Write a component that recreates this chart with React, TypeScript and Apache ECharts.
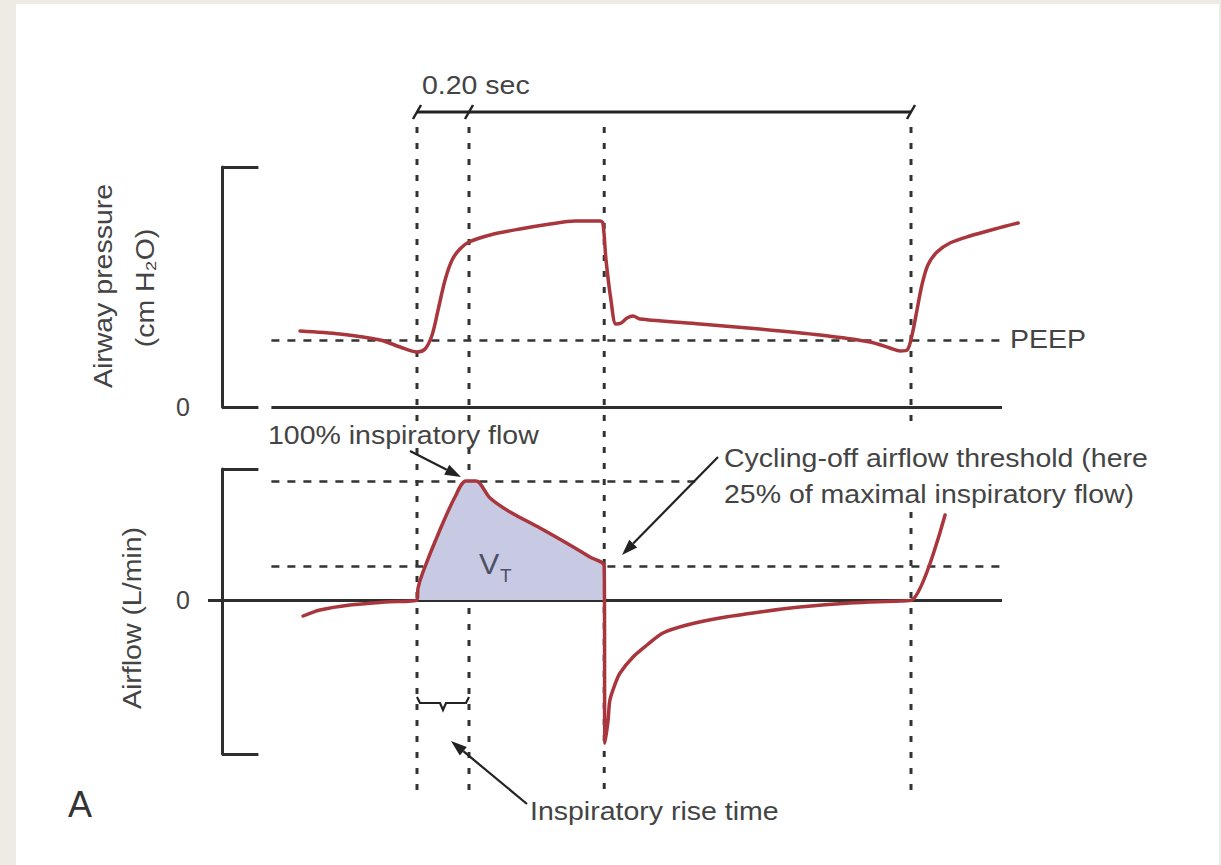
import React, { useEffect, useRef } from 'react';
import * as echarts from 'echarts';

// ---- axis ranges ----
const TIME_MAX = 3.1; // seconds
const PRESSURE_MAX = 24; // cm H2O (arbitrary scale of the schematic)
const FLOW_MIN = -15.4; // L/min (schematic)
const FLOW_MAX = 13.1;

// ---- reference levels ----
const PEEP = 6.7;
const PEAK_FLOW = 11.9;
const CYCLE_OFF_FLOW = 3.4;

// ---- event times (s) ----
const T_INSP_START = 0.75;
const T_RISE_END = 0.95;
const T_CYCLE_OFF = 1.47;
const T_NEXT_BREATH = 2.65;

// ---- reference line extents (s) ----
const REF_LINE_START = 0.19;
const REF_LINE_END = 3.0;
const PEEP_LINE_END = 2.99;
const PEAK_LINE_END = 1.82;
const BRACKET_TICK = 0.14;

// ---- airway pressure waveform ----
const pressureTime = [
  0.3, 0.454, 0.608, 0.685, 0.75, 0.781, 0.808, 0.831, 0.858, 0.885, 0.915, 0.95, 1.031, 1.146,
  1.262, 1.358, 1.454, 1.465, 1.477, 1.496, 1.515, 1.535, 1.558, 1.581, 1.608, 1.838, 2.069, 2.3,
  2.492, 2.569, 2.608, 2.635, 2.654, 2.673, 2.692, 2.715, 2.75, 2.8, 2.877, 2.973, 3.062,
];
const pressureValues = [
  7.6, 7.3, 6.7, 6.0, 5.5, 5.8, 7.2, 9.7, 12.7, 14.7, 15.8, 16.5, 17.2, 17.8, 18.3, 18.6, 18.6,
  18.4, 14.7, 10.7, 8.3, 8.4, 8.9, 9.1, 8.8, 8.3, 7.8, 7.2, 6.5, 5.9, 5.6, 5.7, 7.2, 9.7, 12.2,
  14.2, 15.5, 16.4, 17.1, 17.8, 18.4,
];

// ---- airflow waveform ----
const flowTime = [
  0.312, 0.377, 0.492, 0.627, 0.75, 0.754, 0.773, 0.838, 0.896, 0.938, 0.977, 1.031, 1.108, 1.223,
  1.338, 1.415, 1.47, 1.473, 1.485, 1.492, 1.512, 1.531, 1.581, 1.635, 1.696, 1.788, 1.915, 2.069,
  2.223, 2.415, 2.608, 2.654, 2.781,
];
const flowValues = [
  -1.6, -1.0, -0.5, -0.2, 0, 1.2, 2.8, 7.0, 10.3, 11.9, 11.9, 10.2, 8.8, 7.2, 5.5, 4.3, 3.4, -14.3,
  -12.0, -10.0, -8.4, -7.3, -5.7, -4.5, -3.3, -2.5, -1.8, -1.2, -0.7, -0.3, -0.1, 0, 8.5,
];
// inspiratory part (tidal volume area): indices of flow arrays
const VT_FIRST = 4;
const VT_LAST = 16;

const CURVE_COLOR = '#a8363c';
const AXIS_COLOR = '#2e2e2e';
const DASH_COLOR = '#333';
const TEXT_COLOR = '#444';
const FILL_COLOR = '#c8cae3';
const FONT = '"Liberation Sans", Arial, Helvetica, sans-serif';
const SX = 1.14;
const SMOOTH = 0.3;

const zip = (a: number[], b: number[]) => a.map((v, i) => [v, b[i]]);

function seg(x1: number, y1: number, x2: number, y2: number, style: any) {
  return [
    { coord: [x1, y1], lineStyle: style },
    { coord: [x2, y2] },
  ];
}

const solid = { color: AXIS_COLOR, width: 3, type: 'solid' };
const dashed = { color: DASH_COLOR, width: 2.5, type: [8, 8] };

function label(text: string, x: number, y: number, o: any = {}) {
  const align = o.align ?? 'left';
  return {
    type: 'text',
    x,
    y,
    z: 20,
    scaleX: o.scaleX ?? SX,
    rotation: o.rotation ?? 0,
    style: {
      text,
      fill: o.color ?? TEXT_COLOR,
      fontSize: o.size ?? 25,
      fontFamily: FONT,
      align,
      textAlign: align,
      verticalAlign: 'middle',
      textVerticalAlign: 'middle',
    },
  };
}

function arrow(x1: number, y1: number, x2: number, y2: number) {
  const dx = x2 - x1;
  const dy = y2 - y1;
  const L = Math.hypot(dx, dy);
  const ux = dx / L;
  const uy = dy / L;
  const hl = 16;
  const hw = 5.5;
  const bx = x2 - ux * hl;
  const by = y2 - uy * hl;
  return [
    { type: 'line', z: 20, shape: { x1, y1, x2: bx, y2: by }, style: { stroke: '#222', lineWidth: 2.2 } },
    {
      type: 'polygon',
      z: 20,
      shape: { points: [[x2, y2], [bx - uy * hw, by + ux * hw], [bx + uy * hw, by - ux * hw]] },
      style: { fill: '#222' },
    },
  ];
}

export default function App() {
  const ref = useRef<HTMLDivElement>(null);

  useEffect(() => {
    if (!ref.current) return;
    const chart = echarts.init(ref.current, null, { renderer: 'svg' });

    const yAxisCommon = {
      position: 'left',
      axisLine: { show: true, lineStyle: { color: AXIS_COLOR, width: 3 } },
      splitLine: { show: false },
      axisLabel: {
        customValues: [0],
        formatter: (v: number) => (v === 0 ? '0' : ''),
        margin: 32,
        fontSize: 25,
        fontFamily: FONT,
        color: TEXT_COLOR,
      },
    };

    chart.setOption({
      animation: false,
      backgroundColor: 'transparent',
      grid: [
        { left: 222, top: 167, width: 806, height: 240, containLabel: false, outerBoundsMode: 'none' },
        { left: 222, top: 469, width: 806, height: 285, containLabel: false, outerBoundsMode: 'none' },
      ],
      xAxis: [
        { type: 'value', gridIndex: 0, min: 0, max: TIME_MAX, show: false },
        { type: 'value', gridIndex: 1, min: 0, max: TIME_MAX, show: false },
      ],
      yAxis: [
        { ...yAxisCommon, type: 'value', gridIndex: 0, min: 0, max: PRESSURE_MAX, axisTick: { show: false } },
        {
          ...yAxisCommon,
          type: 'value',
          gridIndex: 1,
          min: FLOW_MIN,
          max: FLOW_MAX,
          axisTick: {
            show: true,
            customValues: [0],
            length: 14,
            lineStyle: { color: AXIS_COLOR, width: 3 },
          },
        },
      ],
      series: [
        {
          name: 'Airway pressure',
          type: 'line',
          xAxisIndex: 0,
          yAxisIndex: 0,
          data: zip(pressureTime, pressureValues),
          smooth: SMOOTH,
          symbol: 'none',
          clip: false,
          z: 4,
          silent: true,
          lineStyle: { color: CURVE_COLOR, width: 3.5, join: 'round', cap: 'round' },
          markLine: {
            silent: true,
            z: 1,
            symbol: 'none',
            label: { show: false },
            data: [
              seg(REF_LINE_START, 0, REF_LINE_END, 0, solid),
              seg(0, 0, BRACKET_TICK, 0, solid),
              seg(0, PRESSURE_MAX, BRACKET_TICK, PRESSURE_MAX, solid),
              seg(REF_LINE_START, PEEP, PEEP_LINE_END, PEEP, dashed),
            ],
          },
        },
        {
          name: 'Tidal volume',
          type: 'line',
          xAxisIndex: 1,
          yAxisIndex: 1,
          data: zip(flowTime.slice(VT_FIRST, VT_LAST + 1), flowValues.slice(VT_FIRST, VT_LAST + 1)),
          smooth: SMOOTH,
          symbol: 'none',
          clip: false,
          z: 2,
          silent: true,
          lineStyle: { width: 0, opacity: 0 },
          areaStyle: { color: FILL_COLOR, opacity: 1 },
        },
        {
          name: 'Airflow',
          type: 'line',
          xAxisIndex: 1,
          yAxisIndex: 1,
          data: zip(flowTime, flowValues),
          smooth: SMOOTH,
          symbol: 'none',
          clip: false,
          z: 4,
          silent: true,
          lineStyle: { color: CURVE_COLOR, width: 3.5, join: 'round', cap: 'round' },
          markLine: {
            silent: true,
            z: 1,
            symbol: 'none',
            label: { show: false },
            data: [
              seg(0, 0, REF_LINE_END, 0, solid),
              seg(0, FLOW_MAX, BRACKET_TICK, FLOW_MAX, solid),
              seg(0, FLOW_MIN, BRACKET_TICK, FLOW_MIN, solid),
              seg(REF_LINE_START, PEAK_FLOW, PEAK_LINE_END, PEAK_FLOW, dashed),
              seg(REF_LINE_START, CYCLE_OFF_FLOW, REF_LINE_END, CYCLE_OFF_FLOW, dashed),
            ],
          },
        },
      ],
    });

    const xPx = (t: number) => chart.convertToPixel({ xAxisIndex: 0 }, t) as unknown as number;
    const yP = (v: number) => chart.convertToPixel({ yAxisIndex: 0 }, v) as unknown as number;
    const yF = (v: number) => chart.convertToPixel({ yAxisIndex: 1 }, v) as unknown as number;

    const vTop = yP(PRESSURE_MAX) - 40;
    const vBot = yF(FLOW_MIN) + 38;
    const dotted = { stroke: DASH_COLOR, lineWidth: 3, lineDash: [6, 10] };
    const vline = (x: number, y1: number, y2: number) => ({
      type: 'line',
      z: 1,
      shape: { x1: x, y1, x2: x, y2 },
      style: dotted,
    });

    const xa = xPx(T_INSP_START);
    const xb = xPx(T_RISE_END);
    const xc = xPx(T_CYCLE_OFF);
    const xd = xPx(T_NEXT_BREATH);
    const barY = yP(PRESSURE_MAX) - 55;
    const slash = (x: number) => ({
      type: 'line',
      z: 20,
      shape: { x1: x - 4, y1: barY + 7, x2: x + 4, y2: barY - 7 },
      style: { stroke: '#222', lineWidth: 2.5 },
    });
    const braceY = 703;
    const bm = (xa + xb) / 2;

    chart.setOption({
      graphic: [
        // vertical timing guides (drawn beneath the curves)
        vline(xa, vTop, 424),
        vline(xa, 448, vBot),
        vline(xb, vTop, 424),
        vline(xb, 448, vBot),
        vline(xc, vTop, vBot),
        vline(xd, vTop, 425),
        vline(xd, 512, vBot),
        // timing bar
        { type: 'line', z: 20, shape: { x1: xa, y1: barY, x2: xd, y2: barY }, style: { stroke: '#222', lineWidth: 2.8 } },
        slash(xa),
        slash(xb),
        slash(xd),
        label('0.20 sec', xa + 5, barY - 26),
        // axis titles
        label('Airway pressure', 104, 286, { rotation: Math.PI / 2, align: 'center' }),
        label('(cm H\u2082O)', 146, 288, { rotation: Math.PI / 2, align: 'center' }),
        label('Airflow (L/min)', 133, 618, { rotation: Math.PI / 2, align: 'center' }),
        // annotations
        label('PEEP', 1010, yP(PEEP)),
        label('100% inspiratory flow', 268, 436),
        ...arrow(410, 451, 461, 477),
        label('Cycling-off airflow threshold (here', 724, 459),
        label('25% of maximal inspiratory flow)', 724, 495),
        ...arrow(718, 457, 622, 555),
        label('V', 479, 564, { size: 29, scaleX: 1.05, color: '#4d5066' }),
        label('T', 500, 576, { size: 18, scaleX: 1.05, color: '#4d5066' }),
        {
          type: 'polyline',
          z: 20,
          shape: {
            points: [
              [xa, braceY - 6],
              [xa + 3, braceY],
              [bm - 3, braceY],
              [bm, braceY + 7],
              [bm + 3, braceY],
              [xb - 3, braceY],
              [xb, braceY - 6],
            ],
          },
          style: { stroke: '#222', lineWidth: 2.2, fill: null },
        },
        ...arrow(527, 804, 451, 741),
        label('Inspiratory rise time', 530, 812),
        label('A', 68, 804, { size: 36, scaleX: 1, color: '#333' }),
      ],
    });

    return () => chart.dispose();
  }, []);

  return (
    <div style={{ position: 'fixed', left: 0, top: 0, width: 1221, height: 865, background: '#eeebe4' }}>
      <div style={{ position: 'absolute', left: 16, top: 4, width: 1203, height: 861, background: '#ffffff' }} />
      <div ref={ref} style={{ position: 'absolute', left: 0, top: 0, width: 1221, height: 865 }} />
    </div>
  );
}
